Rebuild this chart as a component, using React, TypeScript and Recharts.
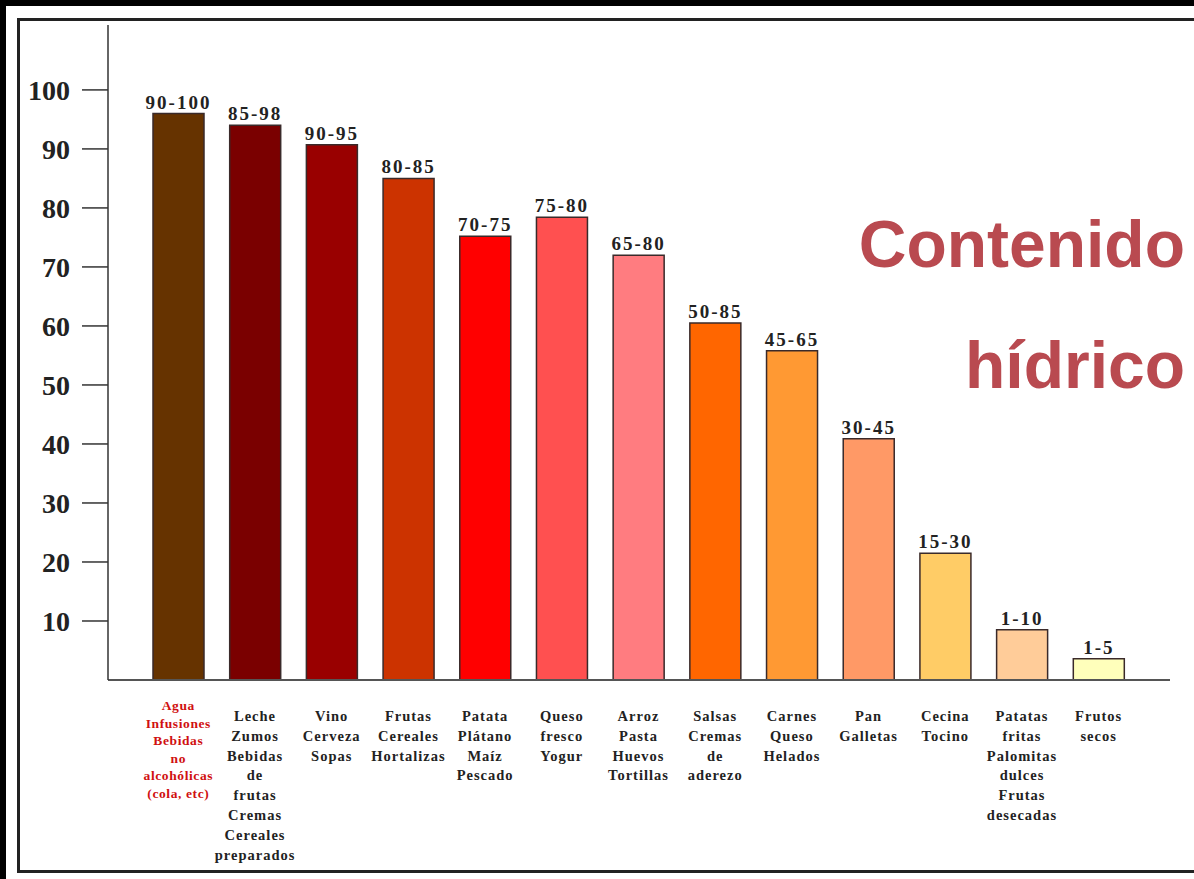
import React from "react";
import { BarChart, Bar, XAxis, YAxis, Cell, LabelList } from "recharts";

const categories: string[] = [
  "Agua|Infusiones|Bebidas|no|alcohólicas|(cola, etc)",
  "Leche|Zumos|Bebidas|de|frutas|Cremas|Cereales|preparados",
  "Vino|Cerveza|Sopas",
  "Frutas|Cereales|Hortalizas",
  "Patata|Plátano|Maíz|Pescado",
  "Queso|fresco|Yogur",
  "Arroz|Pasta|Huevos|Tortillas",
  "Salsas|Cremas|de|aderezo",
  "Carnes|Queso|Helados",
  "Pan|Galletas",
  "Cecina|Tocino",
  "Patatas|fritas|Palomitas|dulces|Frutas|desecadas",
  "Frutos|secos",
];

const values: number[] = [96, 94, 90.7, 85, 75.2, 78.4, 72, 60.5, 55.8, 40.9, 21.5, 8.5, 3.6];

const rangeLabels: string[] = [
  "90-100", "85-98", "90-95", "80-85", "70-75", "75-80", "65-80",
  "50-85", "45-65", "30-45", "15-30", "1-10", "1-5",
];

const barColors: string[] = [
  "#663300", "#7a0000", "#990000", "#cc3300", "#ff0000", "#ff5050", "#ff7c80",
  "#ff6600", "#ff9933", "#ff9966", "#ffcc66", "#ffcc99", "#ffffbb",
];

const yTicks: number[] = [10, 20, 30, 40, 50, 60, 70, 80, 90, 100];

const data = categories.map((c, i) => ({
  name: c,
  value: values[i],
  range: rangeLabels[i],
}));

const SERIF = "'Liberation Serif', 'Times New Roman', serif";
const SANS = "'Liberation Sans', Arial, sans-serif";

const XTick = (props: any) => {
  const { x, y, payload } = props;
  const idx = payload.index;
  const lines = String(payload.value).split("|");
  const first = idx === 0;
  const start = first ? 30 : 41;
  const lh = first ? 17.5 : 19.8;
  return (
    <text
      x={x}
      y={y + start}
      textAnchor="middle"
      fontFamily={SERIF}
      fontWeight="bold"
      fontSize={first ? 13.5 : 14.5}
      letterSpacing={first ? 0.6 : 1}
      fill={first ? "#d01010" : "#222"}
    >
      {lines.map((l, i) => (
        <tspan key={i} x={x} y={y + start + i * lh}>
          {l}
        </tspan>
      ))}
    </text>
  );
};

const YTick = (props: any) => {
  const { x, y, payload } = props;
  return (
    <text
      x={x}
      y={y}
      dy={10}
      textAnchor="end"
      fontFamily={SERIF}
      fontWeight="bold"
      fontSize={28}
      fill="#222"
    >
      {payload.value}
    </text>
  );
};

const RangeLabel = (props: any) => {
  const { x, y, width, value } = props;
  return (
    <text
      x={x + width / 2}
      y={y - 5}
      textAnchor="middle"
      fontFamily={SERIF}
      fontWeight="bold"
      fontSize={19}
      letterSpacing={2}
      fill="#222"
    >
      {value}
    </text>
  );
};

export default function App() {
  return (
    <div
      style={{
        position: "absolute",
        left: 0,
        top: 0,
        width: 1194,
        height: 879,
        background: "#000",
        overflow: "hidden",
      }}
    >
      <div
        style={{
          position: "absolute",
          left: 6,
          top: 6,
          width: 1188,
          height: 873,
          background: "#fff",
        }}
      />
      <div
        style={{
          position: "absolute",
          left: 17,
          top: 18,
          width: 1220,
          height: 849,
          border: "3px solid #222",
        }}
      />
      <div style={{ position: "absolute", left: 0, top: 0 }}>
        <BarChart
          width={1194}
          height={879}
          data={data}
          margin={{ top: 25, right: 24, bottom: 0, left: 0 }}
          barCategoryGap={0}
        >
          <XAxis
            dataKey="name"
            interval={0}
            height={199}
            tick={<XTick />}
            tickLine={false}
            tickSize={0}
            tickMargin={0}
            padding={{ left: 32, right: 33 }}
            axisLine={{ stroke: "#555", strokeWidth: 2 }}
          />
          <YAxis
            width={108}
            domain={[0, 111]}
            ticks={yTicks}
            interval={0}
            tick={<YTick />}
            tickSize={26}
            tickMargin={12}
            tickLine={{ stroke: "#333", strokeWidth: 1.5 }}
            axisLine={{ stroke: "#333", strokeWidth: 1.5 }}
          />
          <Bar
            dataKey="value"
            barSize={51}
            stroke="#3a2a2a"
            strokeWidth={1.5}
            isAnimationActive={false}
          >
            {data.map((d, i) => (
              <Cell key={i} fill={barColors[i]} />
            ))}
            <LabelList dataKey="range" content={<RangeLabel />} />
          </Bar>
        </BarChart>
      </div>
      <svg
        width={1194}
        height={879}
        style={{ position: "absolute", left: 0, top: 0, pointerEvents: "none" }}
      >
        <text
          x={1185}
          y={267}
          textAnchor="end"
          fontFamily={SANS}
          fontWeight="bold"
          fontSize={66}
          fill="#b94a50"
        >
          Contenido
        </text>
        <text
          x={1185}
          y={388}
          textAnchor="end"
          fontFamily={SANS}
          fontWeight="bold"
          fontSize={66}
          fill="#b94a50"
        >
          hídrico
        </text>
      </svg>
    </div>
  );
}
